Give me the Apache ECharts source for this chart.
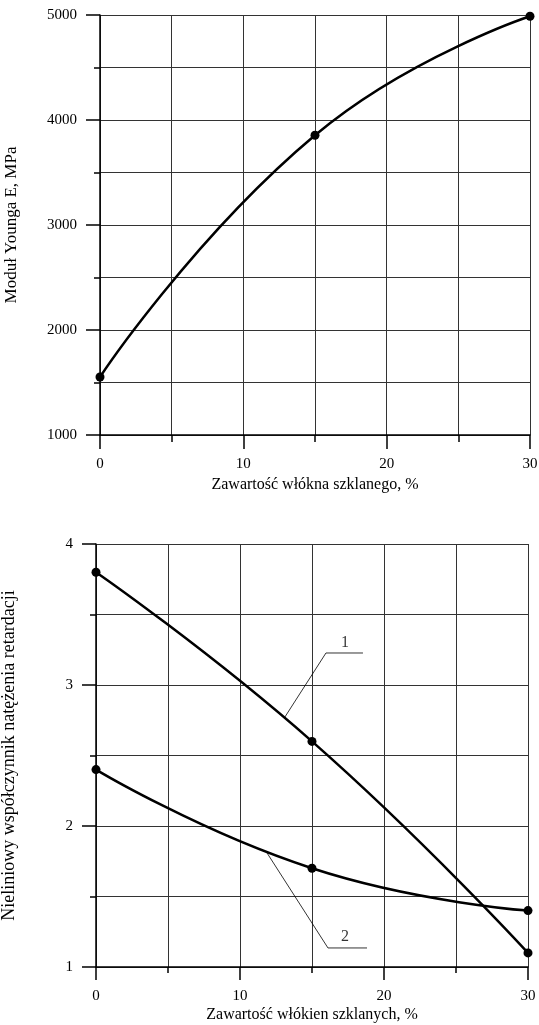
<!DOCTYPE html>
<html>
<head>
<meta charset="utf-8">
<script src="https://cdn.jsdelivr.net/npm/echarts@6/dist/echarts.min.js"></script>
<style>
html,body{margin:0;padding:0;background:#fff;}
#chart{width:539px;height:1025px;}
</style>
</head>
<body>
<div id="chart"></div>
<script>
// ---- data ----
var xTop = [0, 15, 30];
var youngModulus = [1552, 3855, 4988];
var xBottom = [0, 15, 30];
var curve1 = [3.80, 2.60, 1.10];
var curve2 = [2.40, 1.70, 1.40];
// leader lines for curve labels (data coordinates)
var leader1 = [[13.1, 2.77], [15.97, 3.227], [18.54, 3.227]];
var leader2 = [[11.87, 1.81], [16.11, 1.135], [18.82, 1.135]];
var curveLabels = [{name: '1', value: [17.29, 3.30]}, {name: '2', value: [17.29, 1.215]}];
var topXTitle = 'Zawartość włókna szklanego, %';
var topYTitle = 'Moduł Younga E, MPa';
var botXTitle = 'Zawartość włókien szklanych, %';
var botYTitle = 'Nieliniowy współczynnik natężenia retardacji';

var FONT = '"Liberation Serif", "Times New Roman", serif';
var gridColor = '#333';

function plain(v) { return String(v); }

function xAxisCfg(gridIndex, title, tickLen, minorLen, labelMargin, nameGap) {
  return {
    type: 'value', gridIndex: gridIndex, min: 0, max: 30, interval: 10,
    name: title, nameLocation: 'middle', nameGap: nameGap,
    nameTextStyle: {fontFamily: FONT, fontSize: 16, color: '#000'},
    axisLine: {show: true, onZero: false, lineStyle: {color: '#000', width: 1.5}},
    axisTick: {show: true, length: tickLen, lineStyle: {color: '#000', width: 1.5}},
    minorTick: {show: true, splitNumber: 2, length: minorLen, lineStyle: {color: '#000', width: 1.5}},
    axisLabel: {fontFamily: FONT, fontSize: 15, color: '#000', margin: labelMargin, formatter: plain},
    splitLine: {show: true, lineStyle: {color: gridColor, width: 1}},
    minorSplitLine: {show: true, lineStyle: {color: gridColor, width: 1}}
  };
}
function yAxisCfg(gridIndex, min, max, interval, title, nameGap, nameSize) {
  return {
    type: 'value', gridIndex: gridIndex, min: min, max: max, interval: interval,
    name: title, nameLocation: 'middle', nameGap: nameGap, nameRotate: 90,
    nameTextStyle: {fontFamily: FONT, fontSize: nameSize, color: '#000'},
    axisLine: {show: true, onZero: false, lineStyle: {color: '#000', width: 1.5}},
    axisTick: {show: true, length: 14, lineStyle: {color: '#000', width: 1.5}},
    minorTick: {show: true, splitNumber: 2, length: 6, lineStyle: {color: '#000', width: 1.5}},
    axisLabel: {fontFamily: FONT, fontSize: 15, color: '#000', margin: 23, formatter: plain},
    splitLine: {show: true, lineStyle: {color: gridColor, width: 1}},
    minorSplitLine: {show: true, lineStyle: {color: gridColor, width: 1}}
  };
}

function zip(xs, ys) { return xs.map(function (x, i) { return [x, ys[i]]; }); }

var curveStyle = {color: '#000', width: 2.5};
var option = {
  animation: false,
  backgroundColor: '#fff',
  grid: [
    {left: 100, top: 15, width: 430, height: 420, containLabel: false, outerBoundsMode: 'none'},
    {left: 96, top: 544, width: 432, height: 423, containLabel: false, outerBoundsMode: 'none'}
  ],
  xAxis: [
    xAxisCfg(0, topXTitle, 14, 7, 22, 42),
    xAxisCfg(1, botXTitle, 13, 6, 22, 40)
  ],
  yAxis: [
    yAxisCfg(0, 1000, 5000, 1000, topYTitle, 80, 17),
    yAxisCfg(1, 1, 4, 1, botYTitle, 78, 18)
  ],
  series: [
    {type: 'line', xAxisIndex: 0, yAxisIndex: 0, data: zip(xTop, youngModulus), smooth: 0.5,
     symbol: 'circle', symbolSize: 9, itemStyle: {color: '#000'}, lineStyle: curveStyle, z: 5},
    {type: 'line', xAxisIndex: 1, yAxisIndex: 1, data: zip(xBottom, curve1), smooth: 0.5,
     symbol: 'circle', symbolSize: 9, itemStyle: {color: '#000'}, lineStyle: curveStyle, z: 5},
    {type: 'line', xAxisIndex: 1, yAxisIndex: 1, data: zip(xBottom, curve2), smooth: 0.5,
     symbol: 'circle', symbolSize: 9, itemStyle: {color: '#000'}, lineStyle: curveStyle, z: 5},
    {type: 'line', xAxisIndex: 1, yAxisIndex: 1, data: leader1, symbol: 'none', silent: true,
     lineStyle: {color: '#000', width: 0.8}, z: 4},
    {type: 'line', xAxisIndex: 1, yAxisIndex: 1, data: leader2, symbol: 'none', silent: true,
     lineStyle: {color: '#000', width: 0.8}, z: 4},
    {type: 'scatter', xAxisIndex: 1, yAxisIndex: 1, data: curveLabels, symbolSize: 0, silent: true,
     label: {show: true, position: 'inside', formatter: '{b}', fontFamily: FONT, fontSize: 16, color: '#000'}, z: 6}
  ]
};

var chart = echarts.init(document.getElementById('chart'), null, {renderer: 'canvas'});
chart.setOption(option);
</script>
</body>
</html>
